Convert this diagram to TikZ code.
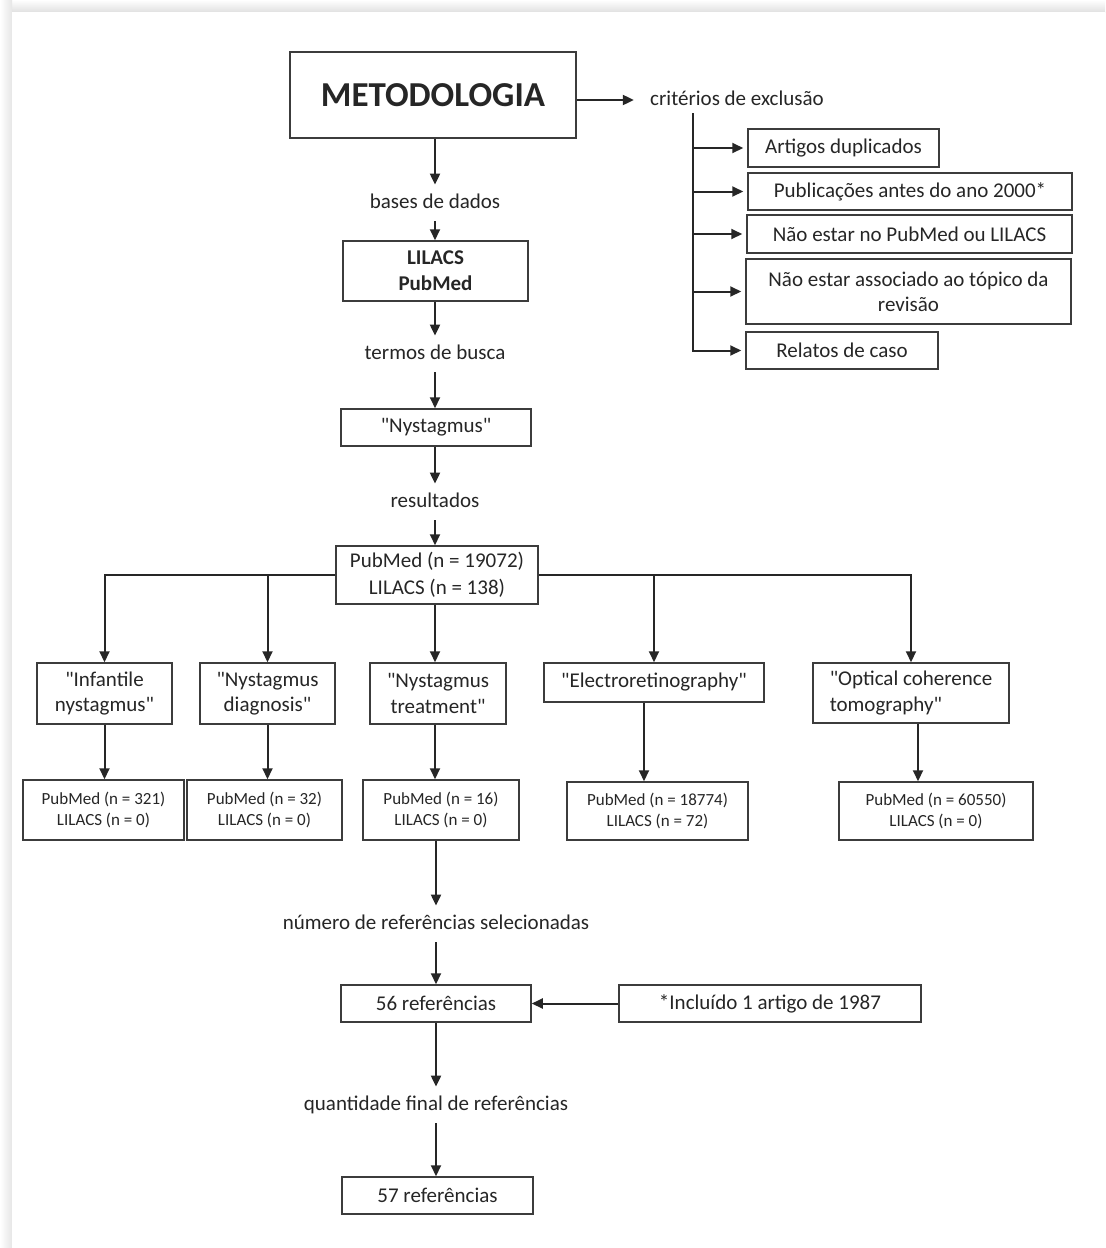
\documentclass[tikz,border=0pt]{standalone}
\usepackage{fontspec}
\setmainfont{Carlito}[Ligatures=TeXOff]
\usetikzlibrary{arrows.meta}
\definecolor{ink}{HTML}{262626}
\definecolor{edge}{HTML}{3C3C3C}
\begin{document}
\begin{tikzpicture}[x=0.5pt,y=-0.5pt,
  box/.style={draw=edge, line width=0.75pt, fill=white, inner sep=2pt, align=center,
    font=\fontsize{10.5}{12.6}\selectfont, text=ink},
  small/.style={box, font=\fontsize{8.5}{10.5}\selectfont},
  lbl/.style={inner xsep=2pt, inner ysep=4pt, text height=7.5pt, text depth=2.5pt,
    font=\fontsize{10.5}{12.6}\selectfont, text=ink},
  arr/.style={draw=ink, line width=1pt, -{Triangle[length=5.5pt,width=5pt]}}]
% page frame
\useasboundingbox (0,0) rectangle (1105,1248);
\shade[top color=white, bottom color=black!12] (0,0) rectangle (1105,12);
\shade[left color=white, right color=black!10] (0,0) rectangle (12,1248);
\fill[white] (12,12) rectangle (1105,1248);

% top
\node[box, line width=1.3pt, minimum width=143pt, minimum height=43pt,
  font=\fontsize{17.5}{20}\selectfont\bfseries] (met) at (433,95) {METODOLOGIA};
\node[lbl] (crit) at (737,100) {critérios de exclusão};
\node[box, minimum width=95.5pt, minimum height=19pt] (e1) at (843.5,148) {Artigos duplicados};
\node[box, minimum width=162pt, minimum height=18.5pt] (e2) at (910,191.5) {Publicações antes do ano 2000*};
\node[box, minimum width=162.5pt, minimum height=19pt] (e3) at (909.5,234) {Não estar no PubMed ou LILACS};
\node[box, minimum width=162.5pt, minimum height=32.5pt] (e4) at (908.5,291.5) {Não estar associado ao tópico da\\revisão};
\node[box, minimum width=96pt, minimum height=18.5pt] (e5) at (842,350.5) {Relatos de caso};
\coordinate (spine) at (693,113);

% main column
\node[lbl] (bases) at (435,203) {bases de dados};
\node[box, minimum width=92.5pt, minimum height=30pt,
  font=\fontsize{10.5}{13}\selectfont\bfseries] (lil) at (435.5,271) {LILACS\\PubMed};
\node[lbl] (termos) at (435,354) {termos de busca};
\node[box, minimum width=95pt, minimum height=18.5pt] (nys) at (436,427.5) {"Nystagmus"};
\node[lbl] (resul) at (435,502) {resultados};
\node[box, minimum width=101pt, minimum height=29pt,
  font=\fontsize{10.5}{13.5}\selectfont] (res) at (437,575) {PubMed (n = 19072)\\LILACS (n = 138)};

% queries
\node[box, minimum width=67.5pt, minimum height=30.5pt] (q1) at (104.5,693.5) {"Infantile\\nystagmus"};
\node[box, minimum width=67.5pt, minimum height=30.5pt] (q2) at (267.5,693.5) {"Nystagmus\\diagnosis"};
\node[box, minimum width=68pt, minimum height=30.5pt] (q3) at (438,693.5) {"Nystagmus\\treatment"};
\node[box, minimum width=110pt, minimum height=19.5pt] (q4) at (654,682.5) {"Electroretinography"};
\node[box, minimum width=98pt, minimum height=30pt, align=left] (q5) at (911,693) {"Optical coherence\\tomography"};

% results
\node[small, minimum width=80.5pt, minimum height=30pt] (r1) at (103.5,810) {PubMed (n = 321)\\LILACS (n = 0)};
\node[small, minimum width=77.5pt, minimum height=30pt] (r2) at (264.5,810) {PubMed (n = 32)\\LILACS (n = 0)};
\node[small, minimum width=78pt, minimum height=30pt] (r3) at (441,810) {PubMed (n = 16)\\LILACS (n = 0)};
\node[small, minimum width=90.5pt, minimum height=29pt] (r4) at (657.5,811) {PubMed (n = 18774)\\LILACS (n = 72)};
\node[small, minimum width=97pt, minimum height=29pt] (r5) at (936,811) {PubMed (n = 60550)\\LILACS (n = 0)};

% bottom
\node[lbl] (numero) at (436,924) {número de referências selecionadas};
\node[box, minimum width=95pt, minimum height=18.5pt] (n56) at (436,1003.5) {56 referências};
\node[box, minimum width=151pt, minimum height=18.5pt] (inc) at (770,1003.5) {*Incluído 1 artigo de 1987};
\node[lbl] (quant) at (436,1105) {quantidade final de referências};
\node[box, minimum width=95.5pt, minimum height=18.5pt] (n57) at (437.5,1195.5) {57 referências};

% connectors: exclusion criteria
\draw[arr, shorten >=6pt] (met.east |- crit.west) -- (crit.west);
\draw[arr, shorten >=2pt] (spine) |- (e5.west);
\draw[arr, shorten >=2pt] (spine |- e1.west) -- (e1.west);
\draw[arr, shorten >=2pt] (spine |- e2.west) -- (e2.west);
\draw[arr, shorten >=2pt] (spine |- e3.west) -- (e3.west);
\draw[arr, shorten >=2pt] (spine |- e4.west) -- (e4.west);

% main column
\draw[arr] (bases.north |- met.south) -- (bases.north);
\draw[arr] (bases.south) -- (bases.south |- lil.north);
\draw[arr] (lil.south -| termos.north) -- (termos.north);
\draw[arr] (termos.south) -- (termos.south |- nys.north);
\draw[arr] (nys.south -| resul.north) -- (resul.north);
\draw[arr] (resul.south) -- (resul.south |- res.north);

% branches
\draw[arr] (res.west) -| (q1.north);
\draw[arr] (res.west -| q2.north) -- (q2.north);
\draw[arr] (res.south -| resul.south) -- (resul.south |- q3.north);
\draw[arr] (res.east -| q4.north) -- (q4.north);
\draw[arr] (res.east) -| (q5.north);

\draw[arr] (q1.south) -- (q1.south |- r1.north);
\draw[arr] (q2.south) -- (q2.south |- r2.north);
\draw[arr] (q3.south -| resul.south) -- (resul.south |- r3.north);
\draw[arr] ([xshift=-5pt]q4.south) -- ([xshift=-5pt]q4.south |- r4.north);
\draw[arr] ([xshift=3.5pt]q5.south) -- ([xshift=3.5pt]q5.south |- r5.north);

\draw[arr] (r3.south -| numero.north) -- (numero.north);
\draw[arr] (numero.south) -- (numero.south |- n56.north);
\draw[arr] (inc.west) -- (n56.east);
\draw[arr] (n56.south -| quant.north) -- (quant.north);
\draw[arr] (quant.south) -- (quant.south |- n57.north);
\end{tikzpicture}
\end{document}
